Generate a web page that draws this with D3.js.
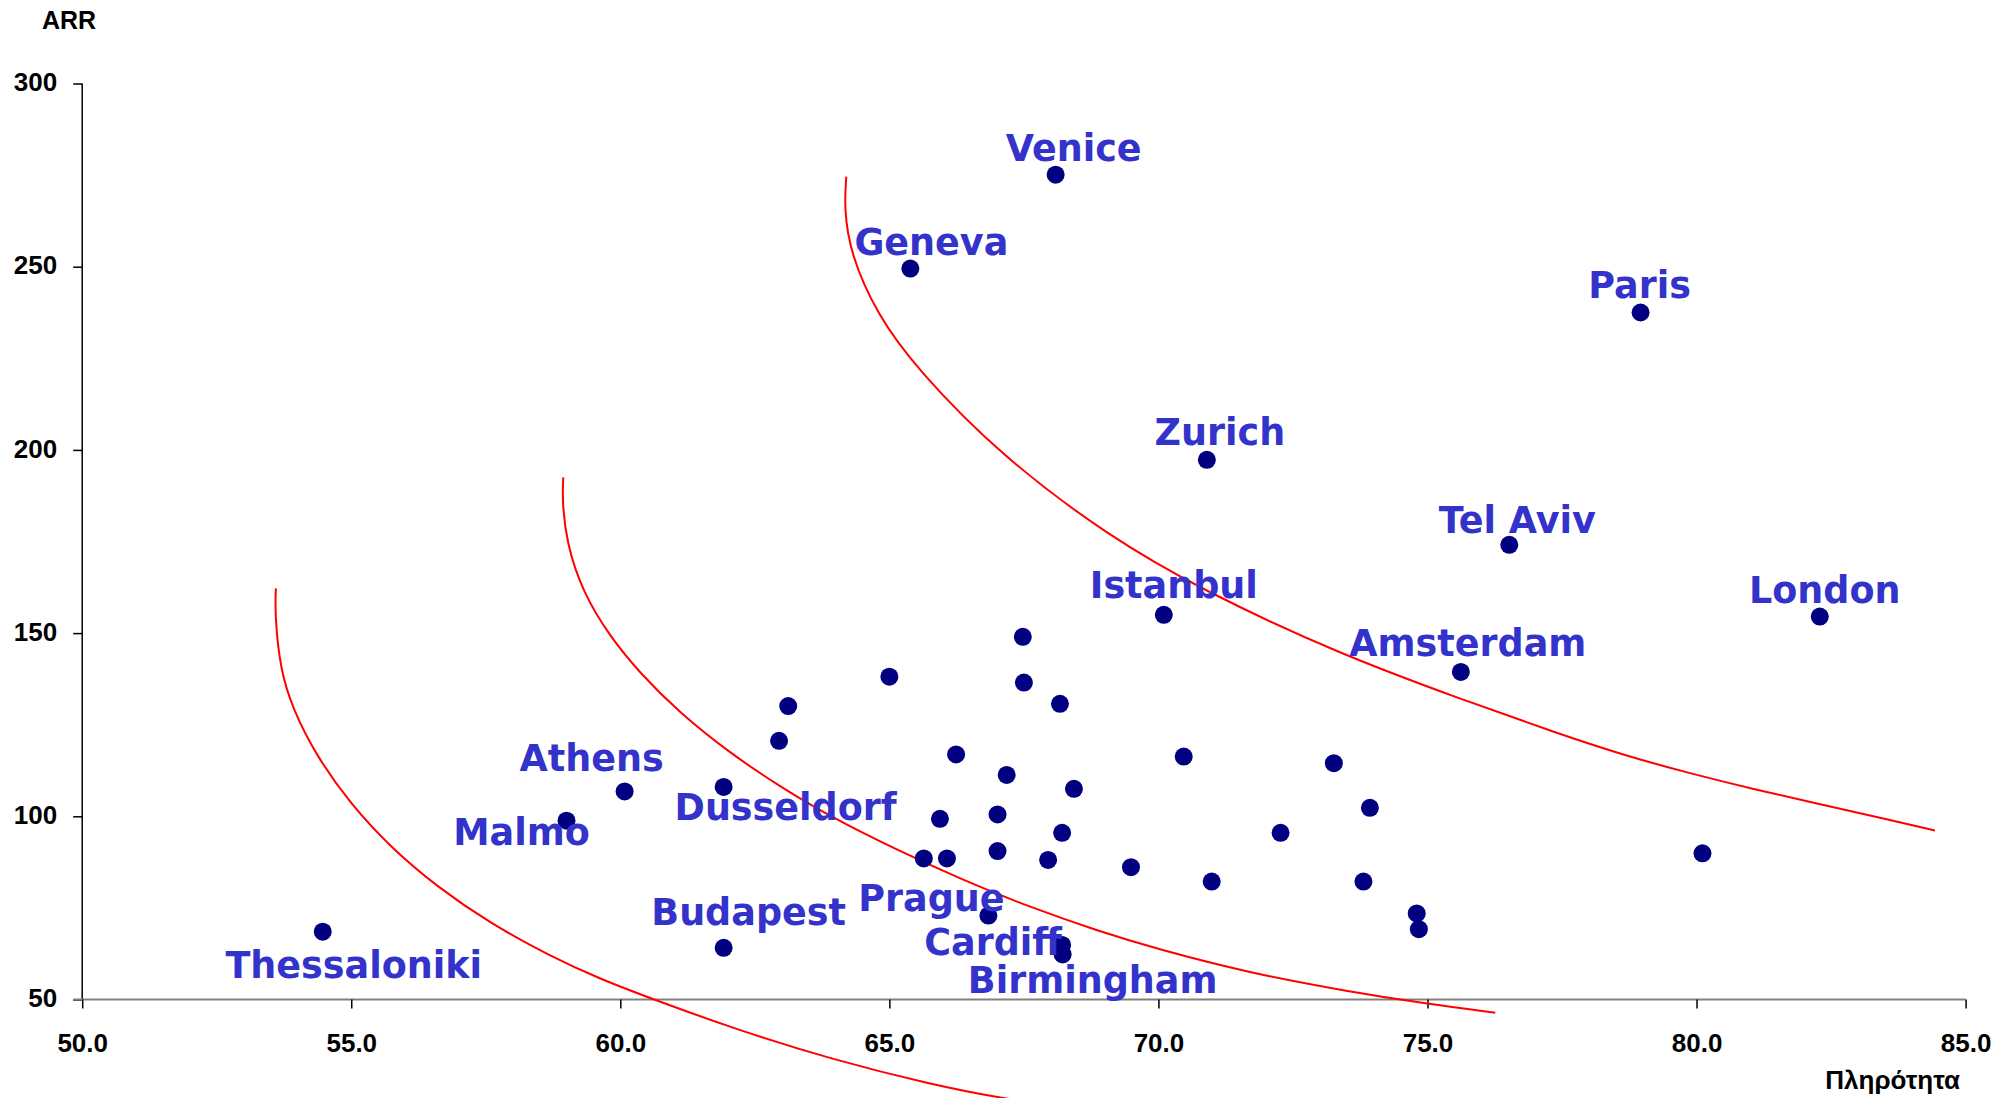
<!DOCTYPE html>
<html>
<head>
<meta charset="utf-8">
<script src="https://cdn.jsdelivr.net/npm/d3@7"></script>
<style>
  html, body { margin: 0; padding: 0; background: #ffffff; }
  svg { display: block; }
</style>
</head>
<body>
<svg id="chart" width="2011" height="1098"></svg>
<script>
// ---------- DATA ----------
const cities = [
  "Thessaloniki", "Malmo", "Athens", "Budapest", "Dusseldorf", "", "", "", "Geneva", "", "",
  "", "", "Prague", "", "", "", "", "", "", "Venice", "",
  "", "Cardiff", "Birmingham", "", "", "Istanbul", "", "Zurich", "", "",
  "", "", "", "", "", "Amsterdam", "Tel Aviv", "Paris", "", "London"
];
const occupancy = [
  54.47, 59.00, 60.08, 61.92, 61.92, 62.95, 63.12, 65.00, 65.39, 65.64, 65.94,
  66.07, 66.24, 66.84, 67.01, 67.01, 67.18, 67.48, 67.50, 67.95, 68.09, 68.17,
  68.21, 68.21, 68.22, 68.43, 69.49, 70.10, 70.47, 70.90, 70.99, 72.27,
  73.26, 73.81, 73.93, 74.80, 74.84, 75.62, 76.52, 78.96, 80.11, 82.29
];
const arr = [
  68.5, 98.8, 106.8, 64.1, 108.0, 120.6, 130.1, 138.1, 249.5, 88.5, 99.3,
  88.5, 116.9, 72.9, 100.5, 90.5, 111.3, 149.0, 136.5, 88.1, 275.1, 130.7,
  95.5, 64.9, 62.3, 107.5, 86.1, 155.0, 116.3, 197.3, 82.2, 95.5,
  114.5, 82.2, 102.3, 73.5, 69.2, 139.4, 174.1, 237.5, 89.9, 154.5
];

// iso-curves
const curve1Occ = [53.60, 53.58, 53.68, 53.92, 54.36, 54.98, 55.72, 56.59, 57.58, 58.69, 59.62, 60.61, 62.10, 63.96, 65.82, 67.06, 68.30];
const curve1Arr = [162.2, 155.4, 139.9, 129.0, 116.3, 103.5, 91.7, 80.8, 70.8, 61.9, 55.6, 50.05, 42.1, 33.5, 26.7, 23.1, 20.5];
const curve2Occ = [58.94, 58.92, 59.00, 59.31, 59.81, 60.37, 61.11, 62.04, 62.97, 63.90, 65.14, 66.37, 67.61, 68.90, 69.97, 71.70, 73.56, 74.99, 76.26];
const curve2Arr = [192.5, 186.3, 174.5, 160.9, 149.0, 139.0, 128.1, 117.2, 108.1, 99.9, 90.8, 82.6, 75.2, 68.6, 63.8, 57.2, 52.1, 48.8, 46.4];
const curve3Occ = [64.20, 64.16, 64.27, 64.77, 65.49, 67.07, 69.08, 70.80, 73.39, 75.68, 77.40, 78.64, 79.88, 81.12, 82.36, 83.60, 84.43];
const curve3Arr = [274.6, 266.2, 253.7, 237.0, 222.4, 198.4, 176.4, 161.8, 144.1, 131.7, 122.7, 116.7, 111.7, 107.2, 103.1, 99.0, 96.1];

const xTicks = [50, 55, 60, 65, 70, 75, 80, 85];
const yTicks = [50, 100, 150, 200, 250, 300];
const xTitle = "Πληρότητα";
const yTitle = "ARR";

// label layout offsets in px (label centre/baseline relative to its dot)
const labelOffsets = {
  "Venice": [18, -14], "Geneva": [21, -14], "Paris": [-1, -15], "Zurich": [13, -15],
  "Tel Aviv": [8, -12], "Istanbul": [10, -17], "London": [5, -14], "Amsterdam": [7, -16],
  "Athens": [-33, -20], "Malmo": [-45, 24], "Dusseldorf": [62, 33], "Budapest": [25, -23],
  "Thessaloniki": [31, 46], "Prague": [-57, -5], "Cardiff": [-69, 10], "Birmingham": [30, 39]
};

// ---------- CHART ----------
(function () {
const svg = d3.select("#chart");
svg.append("rect").attr("width", 2011).attr("height", 1098).attr("fill", "#ffffff");

const pLeft = 82.2, pRight = 1965.6, pTop = 83.5, pBottom = 999.5;
const x = d3.scaleLinear().domain([50, 85]).range([pLeft, pRight]);
const y = d3.scaleLinear().domain([50, 300]).range([pBottom, pTop]);

const tickFont = "'Liberation Sans', Arial, sans-serif";

// Y axis
const yAxis = svg.append("g").attr("transform", `translate(${pLeft},0)`)
  .call(d3.axisLeft(y).tickValues(yTicks).tickSize(9).tickPadding(16).tickFormat(d3.format("d")));
yAxis.select(".domain").attr("stroke", "#000").attr("stroke-width", 1.5).attr("d", `M0,${pTop}V${pBottom}`);
yAxis.selectAll(".tick line").attr("stroke", "#000").attr("stroke-width", 1.5);
yAxis.selectAll(".tick text")
  .attr("font-family", tickFont).attr("font-weight", "bold").attr("font-size", 26)
  .attr("fill", "#000").attr("dy", "0.28em");

// X axis
const xAxis = svg.append("g").attr("transform", `translate(0,${pBottom})`)
  .call(d3.axisBottom(x).tickValues(xTicks).tickSize(9).tickPadding(25).tickFormat(d3.format(".1f")));
xAxis.select(".domain").attr("stroke", "#808080").attr("stroke-width", 2).attr("d", `M${pLeft - 9},0H${pRight}`);
xAxis.selectAll(".tick line").attr("stroke", "#000").attr("stroke-width", 1.5);
xAxis.selectAll(".tick text")
  .attr("font-family", tickFont).attr("font-weight", "bold").attr("font-size", 26)
  .attr("fill", "#000");

// axis titles
svg.append("text").attr("x", 42).attr("y", 28.5)
  .attr("font-family", tickFont).attr("font-weight", "bold").attr("font-size", 25)
  .attr("fill", "#000").text(yTitle);
svg.append("text").attr("x", 1960).attr("y", 1089).attr("text-anchor", "end")
  .attr("font-family", tickFont).attr("font-weight", "bold").attr("font-size", 26)
  .attr("fill", "#000").text(xTitle);

// red iso curves
const line = d3.line().x(d => x(d[0])).y(d => y(d[1])).curve(d3.curveBasis);
[[curve1Occ, curve1Arr], [curve2Occ, curve2Arr], [curve3Occ, curve3Arr]].forEach(([xs, ys]) => {
  svg.append("path")
    .attr("d", line(xs.map((v, i) => [v, ys[i]])))
    .attr("fill", "none").attr("stroke", "#ff0000").attr("stroke-width", 2);
});

// points
const pts = occupancy.map((v, i) => ({ occ: v, arr: arr[i], name: cities[i] }));
svg.append("g").selectAll("circle").data(pts).join("circle")
  .attr("cx", d => x(d.occ)).attr("cy", d => y(d.arr)).attr("r", 9)
  .attr("fill", "#000080");

// labels
svg.append("g").selectAll("text").data(pts.filter(d => d.name)).join("text")
  .attr("x", d => x(d.occ) + labelOffsets[d.name][0])
  .attr("y", d => y(d.arr) + labelOffsets[d.name][1])
  .attr("text-anchor", "middle")
  .attr("font-family", "'DejaVu Sans', Verdana, sans-serif")
  .attr("font-weight", "bold").attr("font-size", 36.5)
  .attr("fill", "#3333cc")
  .text(d => d.name);
})();
</script>
</body>
</html>
